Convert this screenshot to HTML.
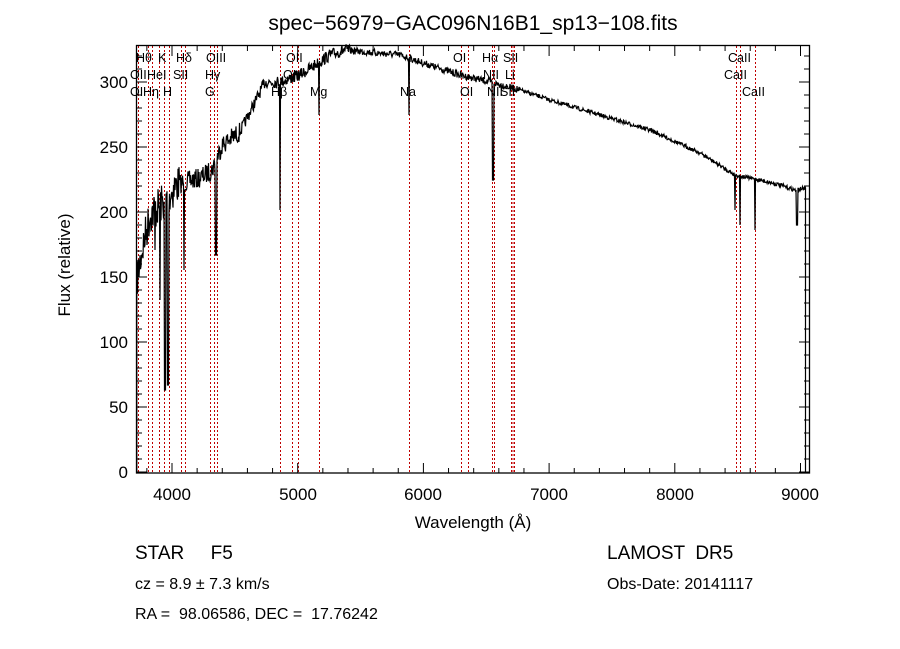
<!DOCTYPE html>
<html><head><meta charset="utf-8"><style>
body{margin:0;background:#fff;}
svg{display:block;font-family:"Liberation Sans",sans-serif;}
text{white-space:pre;}
</style></head><body>
<svg id="s" width="900" height="649" viewBox="0 0 900 649" xmlns="http://www.w3.org/2000/svg">
<rect width="900" height="649" fill="#fff"/>
<text x="473" y="30" font-size="21" text-anchor="middle">spec−56979−GAC096N16B1_sp13−108.fits</text>
<g id="red" stroke="#c00000" stroke-width="1" stroke-dasharray="2,2"></g>
<g id="ticks" stroke="#000" stroke-width="1"></g>
<polyline id="spec" fill="none" stroke="#000" stroke-width="1.2" points=""/>
<rect x="136.5" y="45.5" width="673" height="427.5" fill="none" stroke="#000" stroke-width="1.3"/>
<g font-size="12.5" fill="#000">
<text x="136" y="62">Hθ</text><text x="158" y="62">K</text><text x="176" y="62">Hδ</text><text x="206" y="62">OIII</text><text x="286" y="62">OII</text><text x="453" y="62">OI</text><text x="482" y="62">Hα</text><text x="503" y="62">SII</text><text x="728" y="62">CaII</text>
<text x="130" y="79">OII</text><text x="147" y="79">HeI</text><text x="173" y="79">SII</text><text x="205" y="79">Hγ</text><text x="283" y="79">OI</text><text x="483" y="79">NII</text><text x="505" y="79">Li</text><text x="724" y="79">CaII</text>
<text x="130" y="96">OI</text><text x="143" y="96">Hη</text><text x="163" y="96">H</text><text x="205" y="96">G</text><text x="271" y="96">Hβ</text><text x="310" y="96">Mg</text><text x="400" y="96">Na</text><text x="460" y="96">OI</text><text x="487" y="96">NII</text><text x="500" y="96">SII</text><text x="742" y="96">CaII</text>
</g>
<g font-size="17" text-anchor="middle">
<text x="172" y="500">4000</text><text x="298" y="500">5000</text><text x="423" y="500">6000</text><text x="549" y="500">7000</text><text x="675" y="500">8000</text><text x="800" y="500">9000</text>
</g>
<g font-size="17" text-anchor="end">
<text x="128" y="478">0</text><text x="128" y="413">50</text><text x="128" y="348">100</text><text x="128" y="283">150</text><text x="128" y="218">200</text><text x="128" y="153">250</text><text x="128" y="88">300</text>
</g>
<text x="473" y="528" font-size="17" text-anchor="middle">Wavelength (Å)</text>
<text transform="translate(70,265) rotate(-90)" font-size="17" text-anchor="middle">Flux (relative)</text>
<text x="135" y="559" font-size="19">STAR     F5</text>
<text x="135" y="589" font-size="16">cz = 8.9 ± 7.3 km/s</text>
<text x="135" y="619" font-size="16">RA =  98.06586, DEC =  17.76242</text>
<text x="607" y="559" font-size="19">LAMOST  DR5</text>
<text x="607" y="589" font-size="16">Obs-Date: 20141117</text>
</svg>
<script>
var NS="http://www.w3.org/2000/svg";
function ln(g,x1,y1,x2,y2){var l=document.createElementNS(NS,"line");l.setAttribute("x1",x1);l.setAttribute("y1",y1);l.setAttribute("x2",x2);l.setAttribute("y2",y2);document.getElementById(g).appendChild(l);}
[138,148,152,159,164,169,181,185,210,214,217,280,292,298,319,409,461,468,492,494,511,512.5,514,736,740,755].forEach(function(x){ln("red",x+0.5,46,x+0.5,473);});
function X(l){return 172+(l-4000)*0.1257;}
for(var l=3800;l<=9000;l+=200){var x=X(l),big=(l%1000==0)?10:5;ln("ticks",x,473,x,473-big);ln("ticks",x,46,x,46+big);}
function Y(f){return 472-f*1.3;}
for(var f=0;f<=320;f+=10){var y=Y(f),big=(f%50==0)?10:5;ln("ticks",137,y,137+big,y);ln("ticks",809,y,809-big,y);}
var A=[[137,280],[142,250],[150,215],[160,205],[170,195],[176,185],[185,182],[200,178],[212,170],[222,145],[240,132],[252,108],[265,82],[280,82],[300,75],[330,55],[345,50],[400,55],[420,62],[460,75],[490,82],[520,90],[550,100],[600,115],[650,130],[700,153],[735,175],[760,180],[780,185],[795,190],[805,188]];
function cont(x){for(var i=0;i<A.length-1;i++){if(x<=A[i+1][0]){var t=(x-A[i][0])/(A[i+1][0]-A[i][0]);return A[i][1]+t*(A[i+1][1]-A[i][1]);}}return 188;}
var D=[[165,390,0.6],[168,385,0.6],[160,300,0.4],[155,250,0.4],[184,270,0.4],[216,255,0.6],[280,210,0.4],[319,115,0.4],[409,115,0.4],[493,180,0.6],[735,210,0.4],[740,225,0.4],[755,230,0.4],[797,225,1]];
var seed=7;function r(){seed=(seed*16807)%2147483647;return seed/2147483647-0.5;}
var pts=["136.8,473","136.8,280"];
for(var x=137;x<=805;x+=0.5){var c=cont(x);var amp=x<180?40:(x<240?20:(x<350?12:(x<520?7:4)));var y=c+r()*amp;
D.forEach(function(d){var dx=Math.abs(x-d[0]);if(dx<d[2])y=Math.max(y,d[1]);});
pts.push(x.toFixed(1)+","+y.toFixed(1));}
pts.push("805.5,188","805.5,473");
document.getElementById("spec").setAttribute("points",pts.join(" "));
</script>
</body></html>
